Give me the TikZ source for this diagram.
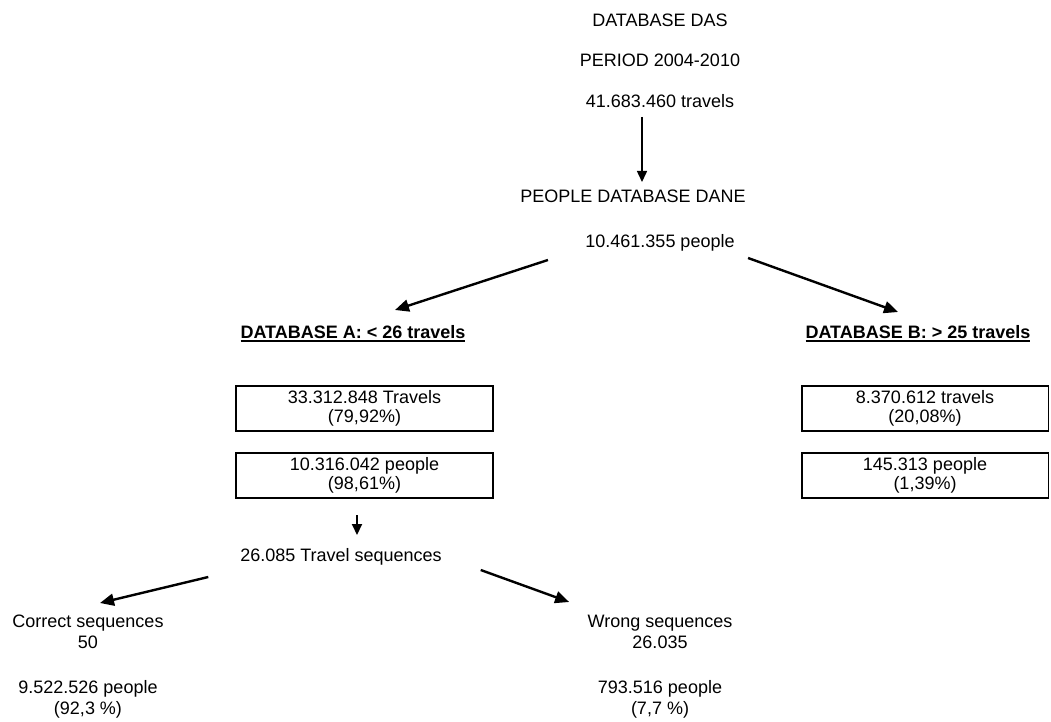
\documentclass[tikz,border=0pt]{standalone}
\usepackage{fontspec}
\setmainfont{Liberation Sans}
\usetikzlibrary{arrows.meta, positioning}

% bold heading with a heavy underline
\newcommand{\ulhead}[1]{\setbox0\hbox{\bfseries #1}\rlap{\vrule height -1.5pt depth 3.5pt width \wd0}\box0}

\begin{document}
\begin{tikzpicture}[x=1pt, y=-1pt,
    every node/.style={inner sep=0pt, outer sep=0pt, font=\fontsize{18pt}{21pt}\selectfont},
    oneline/.style={text height=13pt, text depth=4pt},
    twolines/.style={align=center},
    count box/.style={draw, line width=1.6pt, minimum width=257pt, minimum height=45pt, align=center, font=\fontsize{18pt}{19.5pt}\selectfont,
        path picture={\draw[line width=2.4pt] (path picture bounding box.north west) |- (path picture bounding box.south east);}},
    big arrow/.style={-{Triangle[length=14pt,width=12pt]}, line width=2.4pt},
    small arrow/.style={-{Triangle[length=11pt,width=10pt]}, line width=1.5pt}]
    \useasboundingbox (0,0) rectangle (1051,722);
    \clip (0,0) rectangle (1051,722);

    \node[oneline] (das) at (660,22.5) {DATABASE DAS};
    \node[oneline] (period) [below = 23pt of das] {PERIOD 2004-2010};
    \node[oneline] (travels) [below = 24pt of period] {41.683.460 travels};
    \node[oneline] (dane) at (633,197.5) {PEOPLE DATABASE DANE};
    \node[oneline] (people) at (660,242.5) {10.461.355 people};

    \node[oneline] (dbA) at (353,333.5) {\ulhead{DATABASE A: < 26 travels}};
    \node[oneline] (dbB) at (918,333.5) {\ulhead{DATABASE B: > 25 travels}};

    \node[count box] (travA) at (364.5,408.5) {33.312.848 Travels\\(79,92\%)};
    \node[count box] (peopA) [below = 22pt of travA] {10.316.042 people\\(98,61\%)};
    \node[count box, minimum width=247pt] (travB) at (925,408.5) {8.370.612 travels\\(20,08\%)};
    \node[count box, minimum width=247pt] (peopB) [below = 22pt of travB] {145.313 people\\(1,39\%)};

    \node[oneline] (seq) at (341,556.5) {26.085 Travel sequences};
    \node[twolines, anchor=north] (good) at (88,615) {Correct sequences\\50};
    \node[twolines] (goodppl) [below = 32pt of good] {9.522.526 people\\(92,3 \%)};
    \node[twolines, anchor=north] (bad) at (660,615) {Wrong sequences\\26.035};
    \node[twolines] (badppl) [below = 32pt of bad] {793.516 people\\(7,7 \%)};

    \path[small arrow] ([xshift=-18pt,yshift=-5pt]travels.south) edge ([xshift=9pt,yshift=7pt]dane.north);
    \path[big arrow] ([xshift=-37.5pt,yshift=-9pt]people.south west) edge ([xshift=42pt,yshift=15pt]dbA.north);
    \path[big arrow] ([xshift=13.5pt,yshift=-7pt]people.south east) edge ([xshift=-20pt,yshift=13pt]dbB.north);
    \path[small arrow, line width=2pt] ([xshift=-7.5pt,yshift=-17pt]peopA.south) edge ([xshift=16pt,yshift=13pt]seq.north);
    \path[big arrow] ([xshift=-32pt,yshift=-12pt]seq.south west) edge ([xshift=12pt,yshift=12pt]good.north);
    \path[big arrow] ([xshift=39pt,yshift=-5pt]seq.south east) edge ([xshift=-18.5pt,yshift=13pt]bad.north west);
\end{tikzpicture}
\end{document}
